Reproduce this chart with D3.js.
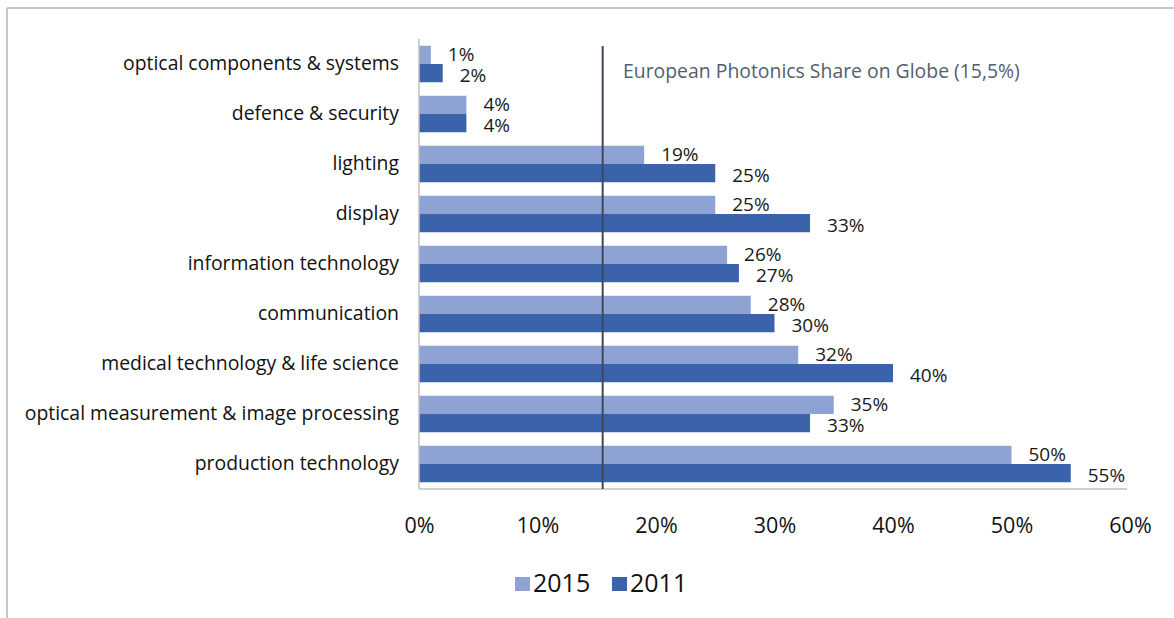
<!DOCTYPE html>
<html>
<head>
<meta charset="utf-8">
<script src="https://cdn.jsdelivr.net/npm/d3@7"></script>
<style>
  html, body { margin: 0; padding: 0; background: #fff; }
  svg { display: block; }
  text { font-family: "Open Sans", Lato, sans-serif; }
</style>
</head>
<body>
<svg id="chart" width="1174" height="618"></svg>
<script>
// Photonics market segments: share in 2015 vs 2011 (percent)
const categories = [
  "optical components & systems",
  "defence & security",
  "lighting",
  "display",
  "information technology",
  "communication",
  "medical technology & life science",
  "optical measurement & image processing",
  "production technology"
];
const series2015 = [1, 4, 19, 25, 26, 28, 32, 35, 50];
const series2011 = [2, 4, 25, 33, 27, 30, 40, 33, 55];
const seriesNames = ["2015", "2011"];
const tickValues = [0, 10, 20, 30, 40, 50, 60];
const referenceShare = 15.5;
const referenceLabel = "European Photonics Share on Globe (15,5%)";

const colors = { "2015": "#8fa2d4", "2011": "#3b63ac" };
const FONT = "'Open Sans', Lato, sans-serif";

const svg = d3.select("#chart");

// outer frame (top and left edges)
svg.append("line").attr("x1", 7).attr("x2", 1174).attr("y1", 8).attr("y2", 8)
  .attr("stroke", "#c6c6c6").attr("stroke-width", 2);
svg.append("line").attr("x1", 7).attr("x2", 7).attr("y1", 8).attr("y2", 618)
  .attr("stroke", "#c6c6c6").attr("stroke-width", 2);

const plot = { left: 419, right: 1130, top: 39, bottom: 489 };

const x = d3.scaleLinear().domain([0, 60]).range([plot.left, plot.right]);
const y = d3.scaleBand().domain(categories).range([plot.top, plot.bottom])
  .paddingInner(0.27).paddingOuter(0.135);
const ySub = d3.scaleBand().domain(seriesNames).range([0, y.bandwidth()]);

const rows = categories.map((c, i) => ({ cat: c, "2015": series2015[i], "2011": series2011[i] }));

// bars
const groups = svg.append("g").selectAll("g").data(rows).join("g")
  .attr("transform", d => `translate(0,${y(d.cat)})`);

groups.selectAll("rect").data(d => seriesNames.map(s => ({ s, v: d[s] })))
  .join("rect")
  .attr("x", x(0))
  .attr("y", d => ySub(d.s))
  .attr("width", d => x(d.v) - x(0))
  .attr("height", ySub.bandwidth())
  .attr("fill", d => colors[d.s]);

// value labels, nudged apart so the two stacked labels stay readable
groups.selectAll("text.val").data(d => seriesNames.map(s => ({ s, v: d[s] })))
  .join("text")
  .attr("class", "val")
  .attr("x", d => x(d.v) + 17)
  .attr("y", d => ySub(d.s) + ySub.bandwidth() / 2 + (d.s === "2015" ? -1 : 2))
  .attr("dy", "0.35em")
  .attr("font-size", 19)
  .attr("fill", "#1a1a1a")
  .text(d => d.v + "%");

// axes lines
svg.append("line").attr("x1", plot.left).attr("x2", plot.left)
  .attr("y1", plot.top).attr("y2", plot.bottom)
  .attr("stroke", "#bfbfbf").attr("stroke-width", 1.5);
svg.append("line").attr("x1", plot.left).attr("x2", 1127)
  .attr("y1", plot.bottom).attr("y2", plot.bottom)
  .attr("stroke", "#bfbfbf").attr("stroke-width", 1.5);

// x axis tick labels
const xAxis = d3.axisBottom(x).tickValues(tickValues).tickFormat(d => d + "%").tickSize(0).tickPadding(0);
const gx = svg.append("g").attr("transform", `translate(0,${plot.bottom})`).call(xAxis);
gx.select(".domain").remove();
gx.selectAll("text").attr("font-size", 21.5).attr("fill", "#111")
  .attr("font-family", FONT)
  .attr("dy", null).attr("y", 44);

// category labels
const yAxis = d3.axisLeft(y).tickSize(0).tickPadding(20);
const gy = svg.append("g").attr("transform", `translate(${plot.left},0)`).call(yAxis);
gy.select(".domain").remove();
gy.selectAll("text").attr("font-size", 19.4).attr("fill", "#111")
  .attr("font-family", FONT);

// reference line
svg.append("line")
  .attr("x1", x(referenceShare)).attr("x2", x(referenceShare))
  .attr("y1", 46).attr("y2", plot.bottom)
  .attr("stroke", "#3e4858").attr("stroke-width", 2);
svg.append("text")
  .attr("x", 623).attr("y", 71).attr("dy", "0.35em")
  .attr("font-size", 19.4).attr("fill", "#545e6e")
  .text(referenceLabel);

// legend
const legend = svg.append("g").attr("transform", "translate(515,577)");
seriesNames.forEach((s, i) => {
  const g = legend.append("g").attr("transform", `translate(${i * 97},0)`);
  g.append("rect").attr("width", 15).attr("height", 14).attr("fill", colors[s]);
  g.append("text").attr("x", 18).attr("y", 6).attr("dy", "0.36em")
    .attr("font-size", 25).attr("fill", "#111").text(s);
});
</script>
</body>
</html>
